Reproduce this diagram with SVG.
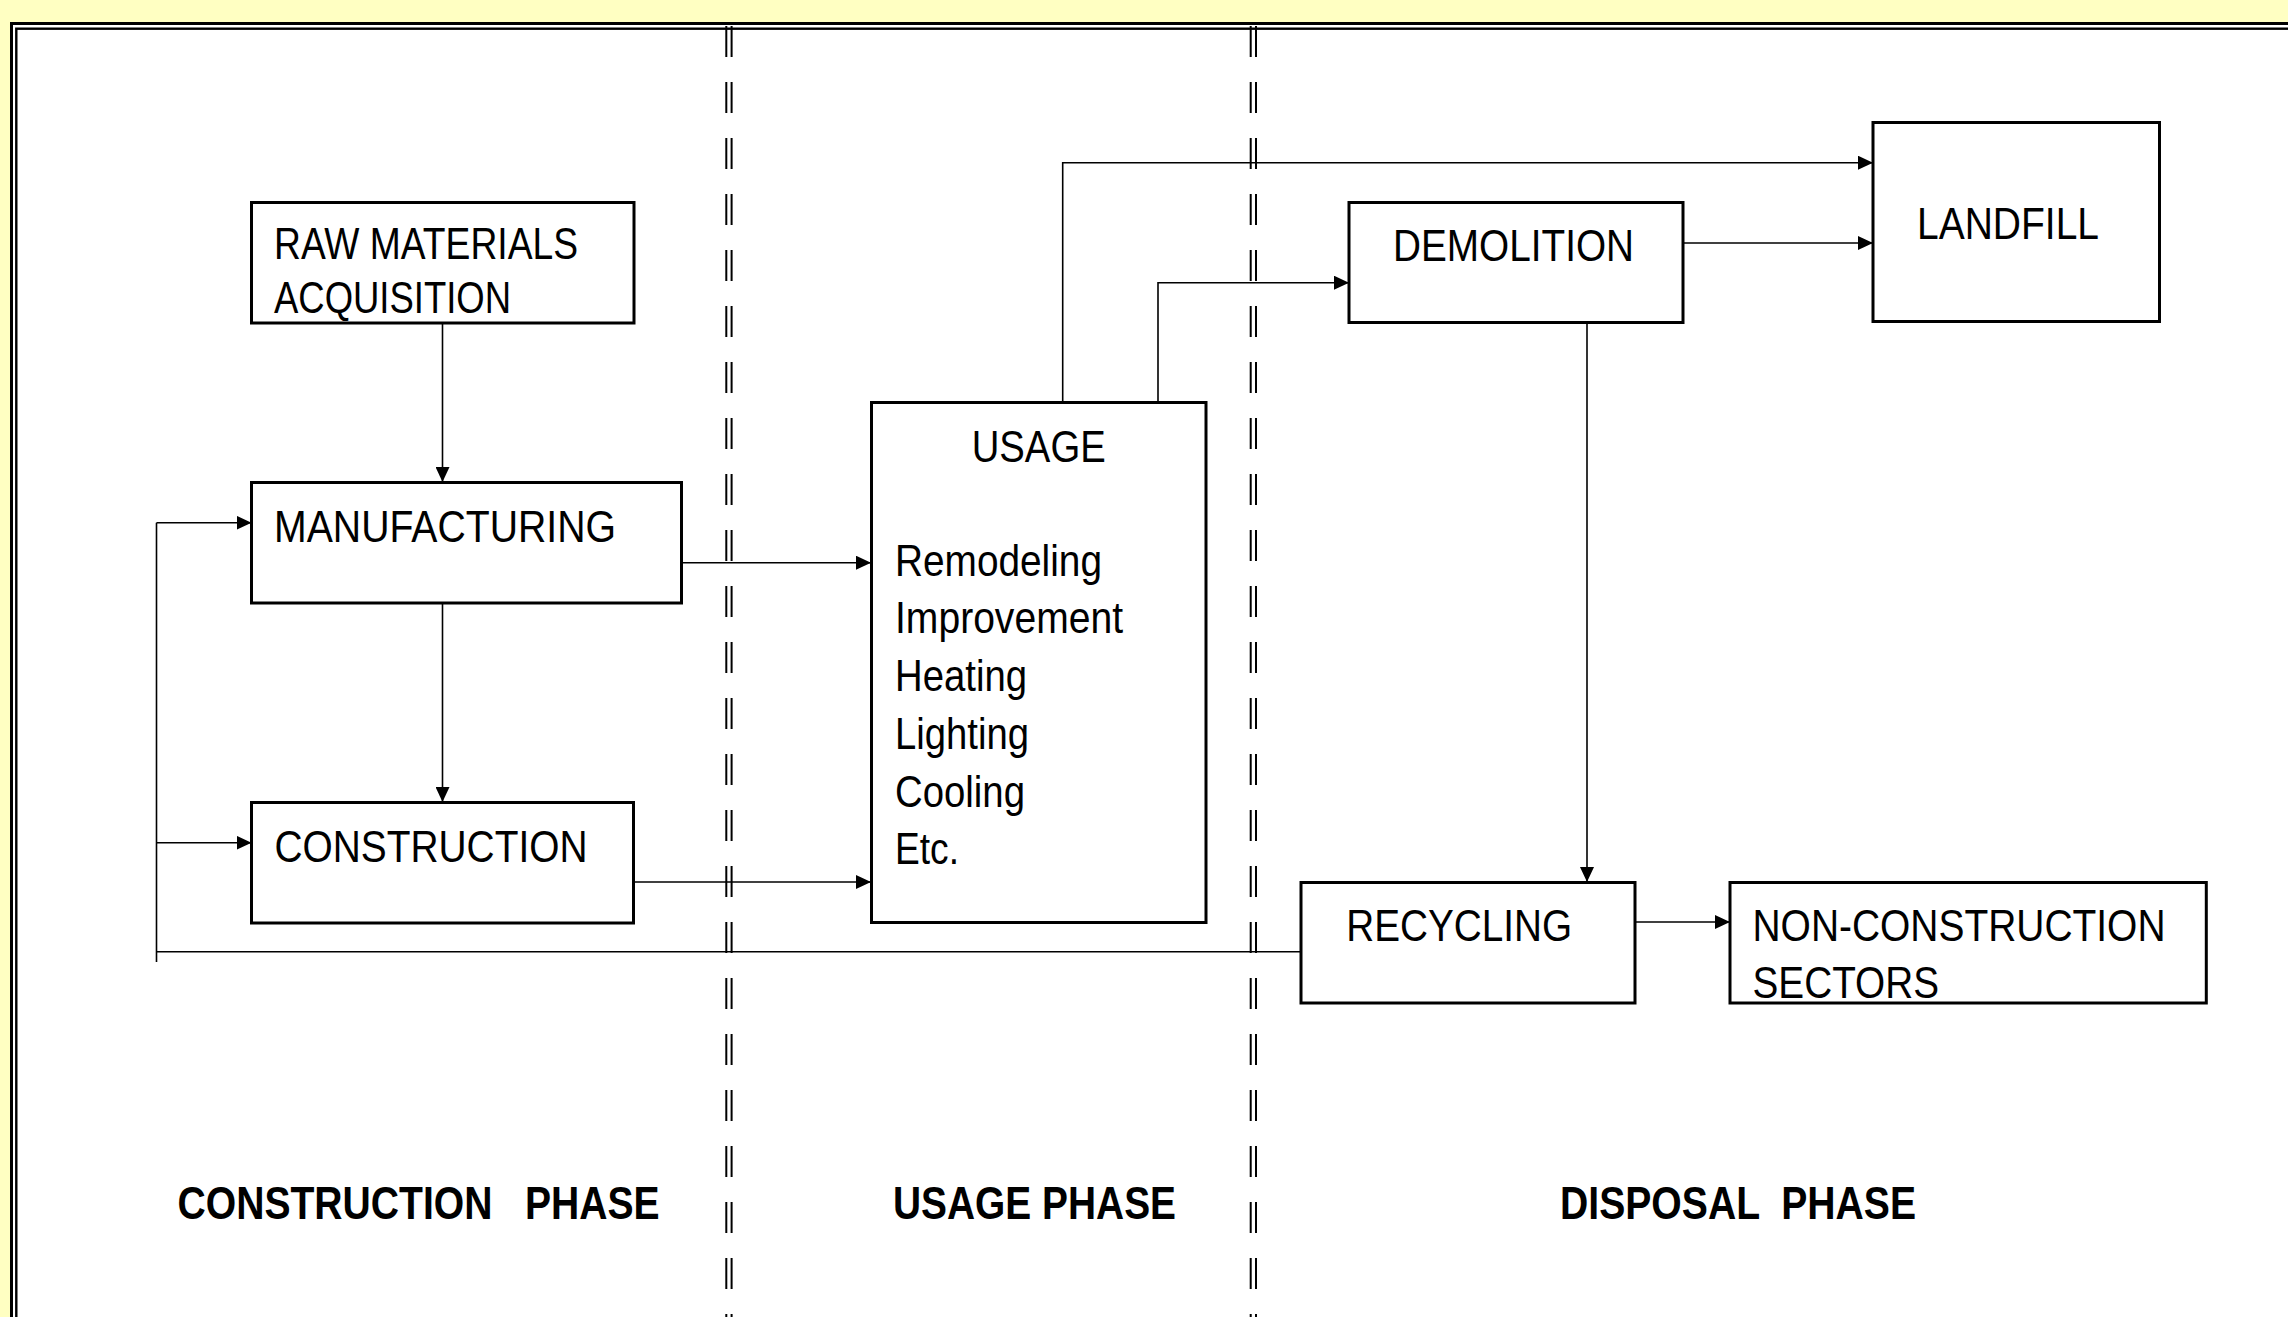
<svg xmlns="http://www.w3.org/2000/svg" width="2288" height="1317" viewBox="0 0 2288 1317">
<defs>
<style>
.box{fill:#ffffff;stroke:#000000;stroke-width:3;}
.t{font-family:"Liberation Sans",Arial,sans-serif;font-size:45px;fill:#000000;}
.ph{font-family:"Liberation Sans",Arial,sans-serif;font-size:46px;font-weight:bold;fill:#000000;}
.c{fill:none;stroke:#000000;stroke-width:1.6;}
.a{fill:none;stroke:#000000;stroke-width:1.6;marker-end:url(#arr);}
.dash{fill:none;stroke:#000000;stroke-width:2;stroke-dasharray:31 25;}
</style>
<marker id="arr" markerUnits="userSpaceOnUse" markerWidth="16" markerHeight="14" refX="15" refY="7" orient="auto">
<path d="M0,0 L15,7 L0,14 Z" fill="#000000"/>
</marker>
</defs>
<rect x="0" y="0" width="2288" height="1317" fill="#ffffc2"/>
<rect x="11.5" y="23.5" width="2300" height="1320" fill="#ffffff" stroke="#000000" stroke-width="3"/>
<rect x="16.3" y="28.7" width="2300" height="1320" fill="none" stroke="#000000" stroke-width="2.4"/>
<g id="phase-dividers">
<line class="dash" x1="726.3" y1="26" x2="726.3" y2="1317"/>
<line class="dash" x1="731.6" y1="26" x2="731.6" y2="1317"/>
<line class="dash" x1="1250.7" y1="26" x2="1250.7" y2="1317"/>
<line class="dash" x1="1256" y1="26" x2="1256" y2="1317"/>
</g>
<g id="connectors">
<line class="a" x1="442.5" y1="323" x2="442.5" y2="482"/>
<line class="a" x1="442.5" y1="603" x2="442.5" y2="802"/>
<line class="a" x1="682" y1="562.7" x2="871" y2="562.7"/>
<line class="a" x1="633.6" y1="882" x2="871" y2="882"/>
<polyline class="a" points="1062.7,402.5 1062.7,162.7 1873,162.7"/>
<polyline class="a" points="1158,402.5 1158,282.7 1349,282.7"/>
<line class="a" x1="1683" y1="243" x2="1873" y2="243"/>
<line class="a" x1="1587" y1="322.5" x2="1587" y2="882"/>
<line class="a" x1="1635" y1="922" x2="1730" y2="922"/>
<polyline class="c" points="1301,951.8 156.5,951.8"/>
<line class="c" x1="156.5" y1="522.7" x2="156.5" y2="962"/>
<line class="a" x1="156.5" y1="522.7" x2="251.5" y2="522.7"/>
<line class="a" x1="156.5" y1="842.7" x2="251.5" y2="842.7"/>
</g>
<g id="raw-materials">
<rect class="box" x="251.5" y="202.5" width="382.5" height="120.5"/>
<text class="t" x="274" y="259" textLength="304" lengthAdjust="spacingAndGlyphs">RAW MATERIALS</text>
<text class="t" x="274" y="313" textLength="237" lengthAdjust="spacingAndGlyphs">ACQUISITION</text>
</g>
<g id="manufacturing">
<rect class="box" x="251.5" y="482.5" width="430" height="120.5"/>
<text class="t" x="274" y="541.7" textLength="342" lengthAdjust="spacingAndGlyphs">MANUFACTURING</text>
</g>
<g id="construction">
<rect class="box" x="251.5" y="802.5" width="382" height="120.5"/>
<text class="t" x="274.5" y="861.7" textLength="313" lengthAdjust="spacingAndGlyphs">CONSTRUCTION</text>
</g>
<g id="usage">
<rect class="box" x="871.5" y="402.5" width="334.5" height="520"/>
<text class="t" x="971.7" y="461.7" textLength="134" lengthAdjust="spacingAndGlyphs">USAGE</text>
<text class="t" x="895" y="575.8" textLength="207" lengthAdjust="spacingAndGlyphs">Remodeling</text>
<text class="t" x="895" y="633.2" textLength="228" lengthAdjust="spacingAndGlyphs">Improvement</text>
<text class="t" x="895" y="690.6" textLength="132" lengthAdjust="spacingAndGlyphs">Heating</text>
<text class="t" x="895" y="748.8" textLength="134" lengthAdjust="spacingAndGlyphs">Lighting</text>
<text class="t" x="895" y="806.6" textLength="130" lengthAdjust="spacingAndGlyphs">Cooling</text>
<text class="t" x="895" y="864" textLength="64" lengthAdjust="spacingAndGlyphs">Etc.</text>
</g>
<g id="demolition">
<rect class="box" x="1349" y="202.5" width="334" height="120"/>
<text class="t" x="1393" y="261.3" textLength="241" lengthAdjust="spacingAndGlyphs">DEMOLITION</text>
</g>
<g id="landfill">
<rect class="box" x="1873" y="122.5" width="286.5" height="199"/>
<text class="t" x="1917" y="238.5" textLength="182" lengthAdjust="spacingAndGlyphs">LANDFILL</text>
</g>
<g id="recycling">
<rect class="box" x="1301" y="882.5" width="334" height="120.5"/>
<text class="t" x="1346.2" y="941" textLength="226" lengthAdjust="spacingAndGlyphs">RECYCLING</text>
</g>
<g id="non-construction">
<rect class="box" x="1730" y="882.5" width="476.3" height="120.5"/>
<text class="t" x="1752.5" y="941" textLength="413" lengthAdjust="spacingAndGlyphs">NON-CONSTRUCTION</text>
<text class="t" x="1752.5" y="997.7" textLength="186.5" lengthAdjust="spacingAndGlyphs">SECTORS</text>
</g>
<g id="phase-labels">
<text class="ph" x="177.6" y="1218.5" textLength="482" lengthAdjust="spacingAndGlyphs" xml:space="preserve">CONSTRUCTION   PHASE</text>
<text class="ph" x="893" y="1218.5" textLength="283" lengthAdjust="spacingAndGlyphs">USAGE PHASE</text>
<text class="ph" x="1560" y="1218.5" textLength="356" lengthAdjust="spacingAndGlyphs" xml:space="preserve">DISPOSAL  PHASE</text>
</g>
</svg>
